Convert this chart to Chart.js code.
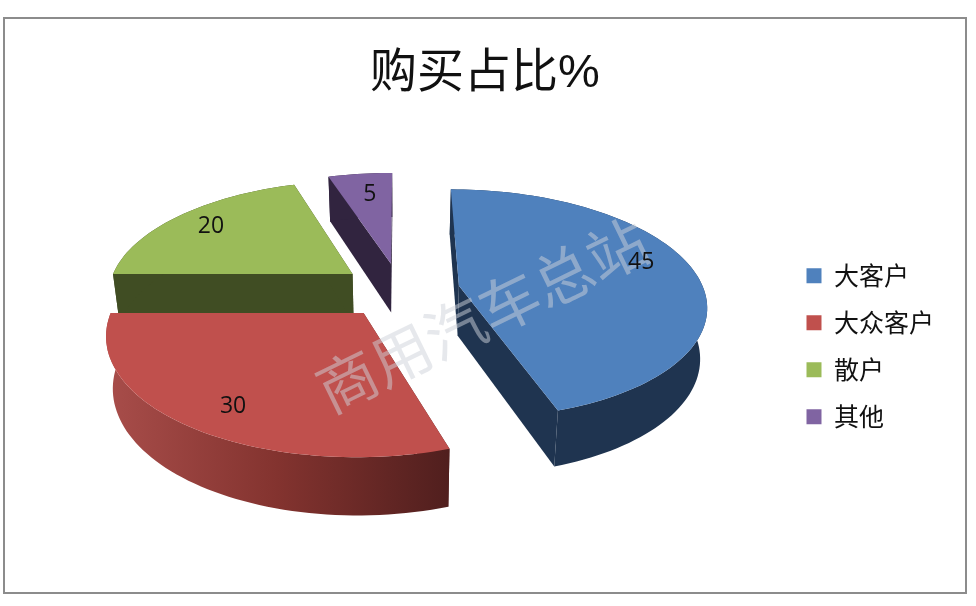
<!DOCTYPE html>
<html>
<head>
<meta charset="utf-8">
<title>购买占比%</title>
<script src="https://cdn.jsdelivr.net/npm/chart.js@4/dist/chart.umd.min.js"></script>
<style>
  body { margin: 0; background: #fff; }
  canvas { display: block; }
</style>
</head>
<body>
<canvas id="pie" width="976" height="606"></canvas>
<script>
// Data
const categories = ['大客户', '大众客户', '散户', '其他'];
const shares = [45, 30, 20, 5];

// Colours per slice: top face, then side walls
const topColors = ['#4F81BD', '#C0504D', '#9BBB59', '#8064A2'];
const sideColors = ['#1F3450', null, '#404D23', '#31243F'];

// Tilted view of the pie: plane coordinates -> screen
const view = { cx: 400, cy: 290, tilt: 0.461, depth: 1540, radius: 245 };

// Label tweaks, the original does not sit exactly on the bisector
const labelNudge = [[-3, -10], [5, 7], [-2, -1], [4, 4]];

function project(X, Y) {
  const s = view.depth / (view.depth - Y);
  return { x: view.cx + X * s, y: view.cy + view.tilt * Y * s, s };
}

// Same point on the underside of the slab
function lower(p) {
  return { x: view.cx + (p.x - view.cx) * 0.977, y: p.y + 50 + 35 * (p.s - 1), s: p.s };
}

function slicePoint(arc, angle, r) {
  const mid = (arc.startAngle + arc.endAngle) / 2;
  const off = arc.options.offset;
  return project(off * Math.cos(mid) + r * Math.cos(angle), off * Math.sin(mid) + r * Math.sin(angle));
}

function fillPoly(ctx, pts, fill) {
  ctx.beginPath();
  pts.forEach((p, i) => (i ? ctx.lineTo(p.x, p.y) : ctx.moveTo(p.x, p.y)));
  ctx.closePath();
  ctx.fillStyle = fill;
  ctx.fill();
}

function rimPoints(arc) {
  const pts = [];
  const steps = Math.max(4, Math.ceil((arc.endAngle - arc.startAngle) / 0.03));
  for (let i = 0; i <= steps; i++) {
    const a = arc.startAngle + (arc.endAngle - arc.startAngle) * i / steps;
    pts.push(slicePoint(arc, a, view.radius));
  }
  return pts;
}

function sideFill(ctx, i) {
  if (sideColors[i]) return sideColors[i];
  // red wall fades to the right
  const g = ctx.createLinearGradient(108, 0, 447, 0);
  g.addColorStop(0, '#A84D4A');
  g.addColorStop(0.5, '#83332F');
  g.addColorStop(1, '#511F1E');
  return g;
}

// Replaces the flat arcs with the extruded slices
const slab3d = {
  id: 'slab3d',
  beforeDatasetsDraw(chart) {
    const ctx = chart.ctx;
    const arcs = chart.getDatasetMeta(0).data;
    const order = arcs.map((a, i) => i).sort((a, b) => {
      const ma = (arcs[a].startAngle + arcs[a].endAngle) / 2;
      const mb = (arcs[b].startAngle + arcs[b].endAngle) / 2;
      return Math.sin(ma) - Math.sin(mb);
    });
    order.forEach(i => {
      const arc = arcs[i];
      const rim = rimPoints(arc);
      const apex = slicePoint(arc, arc.startAngle, 0);
      const fill = sideFill(ctx, i);
      // cut faces
      [rim[0], rim[rim.length - 1]].forEach(p => {
        fillPoly(ctx, [apex, p, lower(p), lower(apex)], fill);
      });
      // outer wall
      fillPoly(ctx, rim.concat(rim.map(lower).reverse()), fill);
      // top face
      fillPoly(ctx, [apex].concat(rim), topColors[i]);
    });
    return false;
  },
  // returning false above also skips afterDatasetsDraw, so the labels go here
  afterDraw(chart) {
    const ctx = chart.ctx;
    const arcs = chart.getDatasetMeta(0).data;
    ctx.save();
    ctx.font = '23px "Open Sans"';
    ctx.fillStyle = '#111';
    ctx.textAlign = 'center';
    ctx.textBaseline = 'middle';
    arcs.forEach((arc, i) => {
      const mid = (arc.startAngle + arc.endAngle) / 2;
      const p = slicePoint(arc, mid, view.radius * 0.79);
      ctx.fillText(shares[i], p.x + labelNudge[i][0], p.y + labelNudge[i][1]);
    });
    ctx.restore();
  }
};

// Outer frame and the site watermark
const frame = {
  id: 'frame',
  beforeDraw(chart) {
    const ctx = chart.ctx;
    ctx.save();
    ctx.fillStyle = '#fff';
    ctx.fillRect(0, 0, 976, 606);
    ctx.strokeStyle = '#8C8C8C';
    ctx.lineWidth = 2;
    ctx.strokeRect(4, 18, 962, 575);
    ctx.restore();
  },
  afterDraw(chart) {
    const ctx = chart.ctx;
    ctx.save();
    ctx.translate(482, 315);
    ctx.rotate(-26 * Math.PI / 180);
    ctx.font = '60px "Noto Sans CJK SC"';
    ctx.fillStyle = 'rgba(205,210,218,0.5)';
    ctx.textAlign = 'center';
    ctx.textBaseline = 'middle';
    ctx.fillText('商用汽车总站', 0, 0);
    ctx.restore();
  }
};

new Chart(document.getElementById('pie'), {
  type: 'pie',
  data: {
    labels: categories,
    datasets: [{
      data: shares,
      backgroundColor: topColors,
      borderWidth: 0,
      offset: 60
    }]
  },
  plugins: [frame, slab3d],
  options: {
    responsive: false,
    animation: false,
    layout: { padding: { top: 46, right: 32, bottom: 20, left: 26 } },
    plugins: {
      tooltip: { enabled: false },
      title: {
        display: true,
        text: '购买占比%',
        color: '#111',
        font: { family: '"Liberation Sans", "Noto Sans CJK SC"', size: 47, weight: 'normal' },
        padding: { top: 0, bottom: 4 }
      },
      legend: {
        position: 'right',
        fullSize: false,
        labels: {
          color: '#111',
          boxWidth: 15,
          boxHeight: 15,
          padding: 22,
          font: { family: '"Noto Sans CJK SC"', size: 25 }
        }
      }
    }
  }
});
</script>
</body>
</html>
